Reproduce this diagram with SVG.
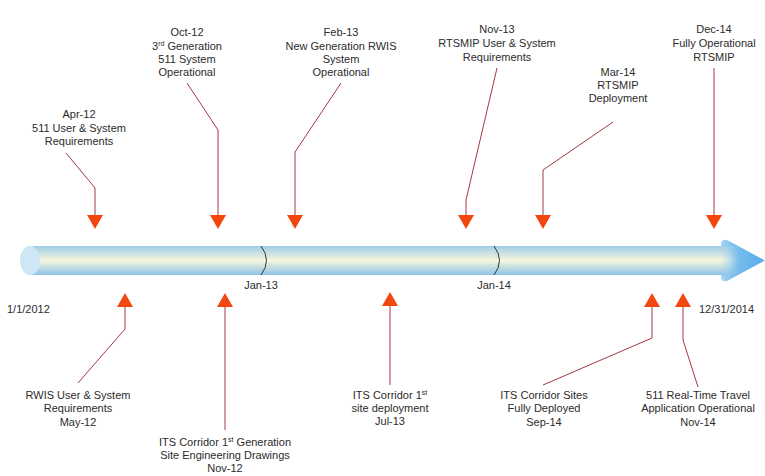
<svg xmlns="http://www.w3.org/2000/svg" width="765" height="476" viewBox="0 0 765 476">
<style>
text{font-family:"Liberation Sans",Arial,sans-serif;font-size:11px;fill:#2b2b2b;text-anchor:middle}
.s{font-size:7px}
.c{fill:none;stroke:#A33A3E;stroke-width:1}
.h{fill:#F2470F}
.d{fill:none;stroke:#333;stroke-width:1}
.l{text-anchor:start}
</style>
<defs>
<linearGradient id="bar" x1="0" y1="0" x2="0" y2="1">
<stop offset="0" stop-color="#9FCDEA"/>
<stop offset="0.5" stop-color="#F6F6DC"/>
<stop offset="1" stop-color="#8CC3E7"/>
</linearGradient>
<linearGradient id="tip" x1="0" y1="0" x2="1" y2="0">
<stop offset="0" stop-color="#A8D5F3"/>
<stop offset="0.3" stop-color="#78BDEE"/>
<stop offset="1" stop-color="#5AAEE8"/>
</linearGradient>
<linearGradient id="fade" x1="0" y1="0" x2="1" y2="0">
<stop offset="0" stop-color="#fff" stop-opacity="1"/>
<stop offset="1" stop-color="#fff" stop-opacity="0"/>
</linearGradient>
<mask id="m" maskUnits="userSpaceOnUse" x="720" y="240" width="25" height="40">
<rect x="720" y="240" width="20" height="40" fill="url(#fade)"/>
</mask>
</defs>
<g id="timeline">
<rect x="30" y="246" width="695" height="29" fill="url(#bar)"/>
<path d="M721,244 Q721,239 727,240 L765,260.5 L727,281 Q721,282 721,277 Z" fill="url(#tip)"/>
<rect x="721" y="246" width="20" height="29" fill="url(#bar)" mask="url(#m)"/>
<ellipse cx="30" cy="260.5" rx="10" ry="14.5" fill="#CFE6F5"/>
<path class="d" d="M261,246 Q272,260.5 261,275"/>
<path class="d" d="M494,246 Q505,260.5 494,275"/>
<text x="261" y="289">Jan-13</text>
<text x="494" y="289">Jan-14</text>
<text class="l" x="7" y="313">1/1/2012</text>
<text class="l" x="699" y="313">12/31/2014</text>
</g>
<g id="connectors">
<polyline class="c" points="66,153 95,188 95,215"/>
<polygon class="h" points="87,215 103,215 95,229"/>
<polyline class="c" points="187,83 218,130 218,215"/>
<polygon class="h" points="210,215 226,215 218,229"/>
<polyline class="c" points="341,83 295,152 295,215"/>
<polygon class="h" points="287,215 303,215 295,229"/>
<polyline class="c" points="497,68 466,200 466,215"/>
<polygon class="h" points="458,215 474,215 466,229"/>
<polyline class="c" points="613,122 543,170 543,215"/>
<polygon class="h" points="535,215 551,215 543,229"/>
<polyline class="c" points="714,68 714,215"/>
<polygon class="h" points="706,215 722,215 714,229"/>
<polyline class="c" points="125,307 125,329 78,383"/>
<polygon class="h" points="117,307 133,307 125,293"/>
<polyline class="c" points="225,307 225,430"/>
<polygon class="h" points="217,307 233,307 225,293"/>
<polyline class="c" points="390,306 390,385"/>
<polygon class="h" points="382,306 398,306 390,292"/>
<polyline class="c" points="652,307 652,338 543,385"/>
<polygon class="h" points="644,307 660,307 652,293"/>
<polyline class="c" points="683,307 683,340 698,387"/>
<polygon class="h" points="675,307 691,307 683,293"/>
</g>
<g id="apr12"><text x="79" y="118">Apr-12</text><text x="79" y="132">511 User &amp; System</text><text x="79" y="145">Requirements</text></g>
<g id="oct12"><text x="187" y="36">Oct-12</text><text x="187" y="50">3<tspan class="s" dy="-4">rd</tspan><tspan dy="4"> Generation</tspan></text><text x="187" y="63">511 System</text><text x="187" y="76">Operational</text></g>
<g id="feb13"><text x="341" y="36">Feb-13</text><text x="341" y="50">New Generation RWIS</text><text x="341" y="63">System</text><text x="341" y="76">Operational</text></g>
<g id="nov13"><text x="497" y="33">Nov-13</text><text x="497" y="47">RTSMIP User &amp; System</text><text x="497" y="61">Requirements</text></g>
<g id="mar14"><text x="618" y="76">Mar-14</text><text x="618" y="89">RTSMIP</text><text x="618" y="102">Deployment</text></g>
<g id="dec14"><text x="714" y="33">Dec-14</text><text x="714" y="47">Fully Operational</text><text x="714" y="61">RTSMIP</text></g>
<g id="may12"><text x="78" y="399">RWIS User &amp; System</text><text x="78" y="412">Requirements</text><text x="78" y="426">May-12</text></g>
<g id="nov12"><text x="225" y="446">ITS Corridor 1<tspan class="s" dy="-4">st</tspan><tspan dy="4"> Generation</tspan></text><text x="225" y="459">Site Engineering Drawings</text><text x="225" y="472">Nov-12</text></g>
<g id="jul13"><text x="390" y="399">ITS Corridor 1<tspan class="s" dy="-4">st</tspan></text><text x="390" y="412">site deployment</text><text x="390" y="425">Jul-13</text></g>
<g id="sep14"><text x="544" y="399">ITS Corridor Sites</text><text x="544" y="412">Fully Deployed</text><text x="544" y="426">Sep-14</text></g>
<g id="nov14"><text x="698" y="399">511 Real-Time Travel</text><text x="698" y="412">Application Operational</text><text x="698" y="426">Nov-14</text></g>
</svg>
